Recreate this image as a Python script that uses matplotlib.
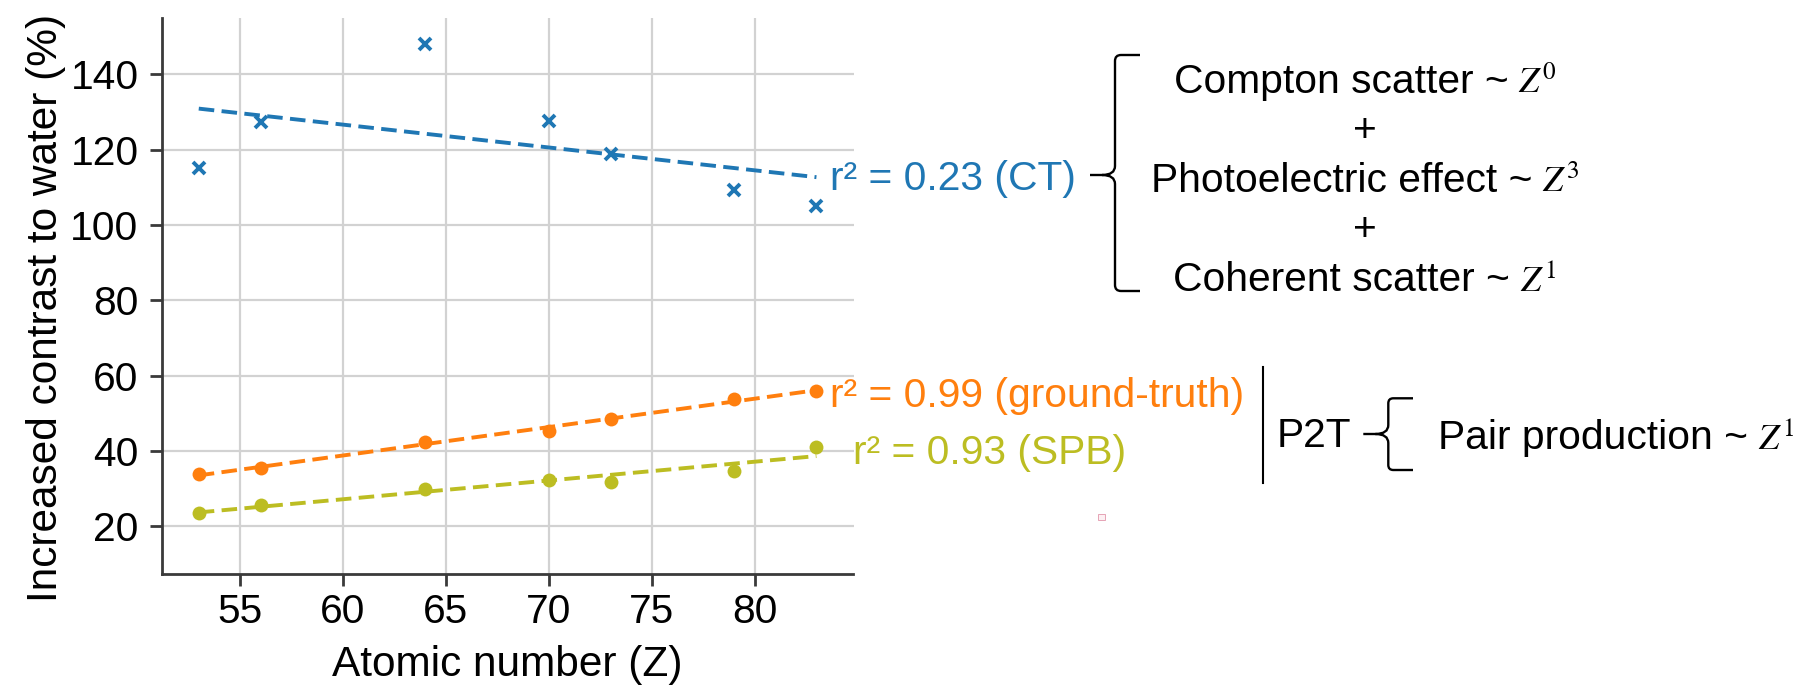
import numpy as np
import matplotlib
matplotlib.use("Agg")
import matplotlib.pyplot as plt
from matplotlib.path import Path
from matplotlib.patches import PathPatch, Rectangle
from matplotlib.transforms import Affine2D

plt.rcParams["font.family"] = ["Liberation Sans", "DejaVu Sans"]
plt.rcParams["mathtext.fontset"] = "stix"

# ---- data -------------------------------------------------------------
atomic_number = [53, 56, 64, 70, 73, 79, 83]
ct_contrast = [115.1, 127.4, 148.0, 127.6, 118.9, 109.4, 105.1]
ground_truth_contrast = [33.9, 35.4, 42.3, 45.3, 48.4, 53.9, 56.0]
spb_contrast = [23.5, 25.7, 29.9, 32.3, 31.8, 34.7, 41.1]
fit_labels = ["r² = 0.23 (CT)", "r² = 0.99 (ground-truth)", "r² = 0.93 (SPB)"]
x_ticks = [55, 60, 65, 70, 75, 80]
y_ticks = [20, 40, 60, 80, 100, 120, 140]

BLUE, ORANGE, OLIVE = "#1f77b4", "#ff7f0e", "#bcbd22"
FS = 29.3      # main text size (pt)
LS = 30.5      # axis label size
ZS = 26        # size of the Z power terms
W, H = 1818, 689

fig = plt.figure(figsize=(W / 100, H / 100), dpi=100)
ax = fig.add_axes([161.7 / W, 1 - 574 / H, (853.5 - 161.7) / W, (574 - 17.6) / H])

# pixel coordinates measured from the top-left corner of the figure
px = Affine2D().scale(1 / W, -1 / H).translate(0, 1) + fig.transFigure

z = np.array(atomic_number, dtype=float)
series = [
    (ct_contrast, BLUE, "x", dict(ms=8.5, mew=2.8)),
    (ground_truth_contrast, ORANGE, "o", dict(ms=10, mew=0)),
    (spb_contrast, OLIVE, "o", dict(ms=10, mew=0)),
]
for vals, col, mk, mkw in series:
    v = np.array(vals)
    slope, icpt = np.polyfit(z, v, 1)
    zz = np.array([z.min(), z.max()])
    ax.plot(zz, slope * zz + icpt, color=col, lw=2.8,
            linestyle=(0, (4.0, 1.9)), zorder=3)
    ax.plot(z, v, linestyle="none", marker=mk, color=col, zorder=4, **mkw)

# fit annotations next to the line ends
label_pos = [(83.64, 109.3), (83.64, 51.6), (84.77, 36.5)]
for (lx, ly), txt, col in zip(label_pos, fit_labels, [BLUE, ORANGE, OLIVE]):
    ax.text(lx, ly, txt, color=col, fontsize=FS, ha="left", va="baseline",
            clip_on=False, zorder=5)

ax.set_xlim(51.2, 84.8)
ax.set_ylim(7.3, 155.1)
ax.set_xticks(x_ticks)
ax.set_yticks(y_ticks)
ax.grid(True, color="#d2d2d2", lw=1.6)
ax.set_axisbelow(True)
for s in ["top", "right"]:
    ax.spines[s].set_visible(False)
for s in ["left", "bottom"]:
    ax.spines[s].set_color("#3a3a3a")
    ax.spines[s].set_linewidth(2.0)
ax.tick_params(axis="both", length=8.4, width=2.0, color="#3a3a3a",
               labelsize=FS, labelcolor="black")
ax.tick_params(axis="y", pad=8.3)
ax.tick_params(axis="x", pad=5.5)
ax.set_xlabel("Atomic number (Z)", fontsize=LS, labelpad=10)
ax.set_ylabel("Increased contrast to water (%)", fontsize=LS)
ax.yaxis.set_label_coords(-0.138, 0.478)

renderer = fig.canvas.get_renderer()


def power_text(words, power, baseline, center=None, left=None, gap=10.0):
    t1 = fig.text(0, 0, words, transform=px, fontsize=FS,
                  ha="left", va="baseline")
    t2 = fig.text(0, 0, rf"$Z^{{{power}}}$", transform=px, fontsize=ZS,
                  ha="left", va="baseline")
    w1 = t1.get_window_extent(renderer).width
    w2 = t2.get_window_extent(renderer).width
    if left is None:
        left = center - (w1 + gap + w2) / 2
    t1.set_position((left, baseline))
    t2.set_position((left + w1 + gap, baseline))


def brace(x, top, bottom, mid, tip, hook, r=6, lw=1.7):
    verts = [(hook, top), (x + r, top), (x, top), (x, top + r),
             (x, mid - 9), (x, mid), (x - 13, mid),
             (tip, mid),
             (x - 13, mid), (x, mid), (x, mid + 9),
             (x, bottom - r), (x, bottom), (x + r, bottom), (hook, bottom)]
    codes = [Path.MOVETO, Path.LINETO, Path.CURVE3, Path.CURVE3,
             Path.LINETO, Path.CURVE3, Path.CURVE3,
             Path.LINETO,
             Path.MOVETO, Path.CURVE3, Path.CURVE3,
             Path.LINETO, Path.CURVE3, Path.CURVE3, Path.LINETO]
    fig.patches.append(PathPatch(Path(verts, codes), transform=px, fill=False,
                                 lw=lw, color="black", capstyle="butt"))


# interaction terms for the conventional CT contrast
brace(1115, 55, 291, 175, 1090, 1140)
power_text("Compton scatter ~", 0, 92.7, center=1365)
fig.text(1365, 142.4, "+", transform=px, fontsize=FS, ha="center", va="baseline")
power_text("Photoelectric effect ~", 3, 191.7, center=1365)
fig.text(1365, 241.2, "+", transform=px, fontsize=FS, ha="center", va="baseline")
power_text("Coherent scatter ~", 1, 290.7, center=1365)

# P2T block
fig.add_artist(plt.Line2D([1263.3, 1263.3], [367, 483], transform=px,
                          color="black", lw=1.5))
fig.text(1276.7, 447, "P2T", transform=px, fontsize=FS, ha="left", va="baseline")
brace(1388.3, 398.3, 470, 434, 1363.3, 1413, r=5)
power_text("Pair production ~", 1, 449, left=1438.3)

# small marker glyph
fig.patches.append(Rectangle((1098, 513.5), 6.5, 6.5, transform=px,
                             facecolor="#fdf0f3", edgecolor="#e6a3b5", lw=0.7))

fig.savefig("out.png", dpi=100)
